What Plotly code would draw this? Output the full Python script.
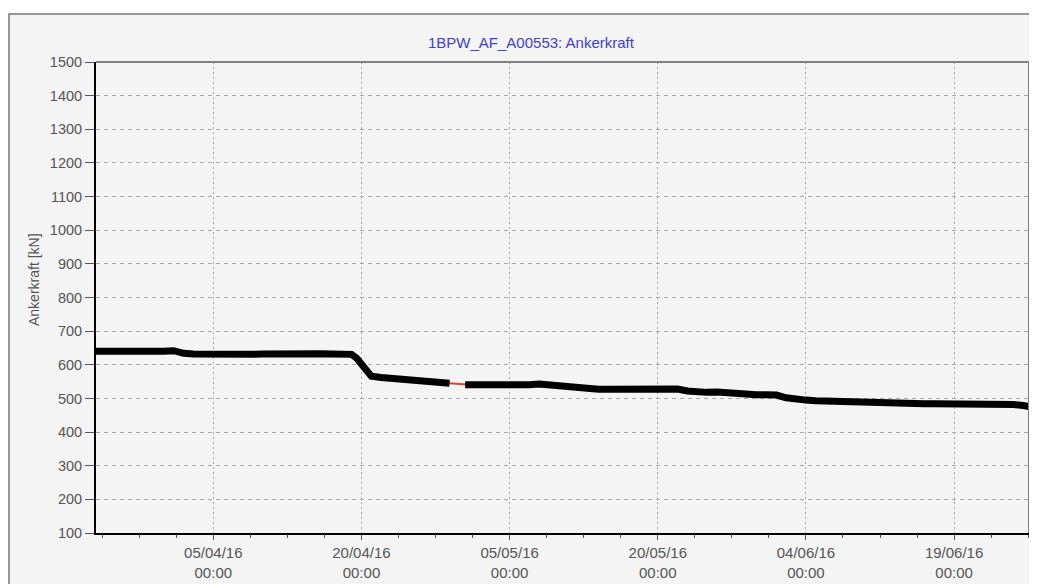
import plotly.graph_objects as go

# ---- data ----
dates = [
    "2016-03-24 03:00", "2016-03-25", "2016-03-26", "2016-03-27", "2016-03-28", "2016-03-29",
    "2016-03-30", "2016-03-31", "2016-04-01", "2016-04-02", "2016-04-03", "2016-04-04",
    "2016-04-05", "2016-04-06", "2016-04-07", "2016-04-08", "2016-04-09", "2016-04-10",
    "2016-04-11", "2016-04-12", "2016-04-13", "2016-04-14", "2016-04-15", "2016-04-16",
    "2016-04-17", "2016-04-18", "2016-04-19", "2016-04-19 12:00", "2016-04-20", "2016-04-20 12:00",
    "2016-04-21", "2016-04-22", "2016-04-23", "2016-04-24", "2016-04-25", "2016-04-26",
    "2016-04-27", "2016-04-28", "2016-04-28 22:00", "2016-04-29 12:00", "2016-04-30 12:00",
    "2016-05-01", "2016-05-02", "2016-05-03", "2016-05-04", "2016-05-05", "2016-05-06",
    "2016-05-07", "2016-05-08", "2016-05-09", "2016-05-10", "2016-05-11", "2016-05-12",
    "2016-05-13", "2016-05-14", "2016-05-15", "2016-05-16", "2016-05-17", "2016-05-18",
    "2016-05-19", "2016-05-20", "2016-05-21", "2016-05-22", "2016-05-23", "2016-05-24",
    "2016-05-25", "2016-05-26", "2016-05-27", "2016-05-28", "2016-05-29", "2016-05-30",
    "2016-05-31", "2016-06-01", "2016-06-02", "2016-06-03", "2016-06-04", "2016-06-05",
    "2016-06-06", "2016-06-07", "2016-06-08", "2016-06-09", "2016-06-10", "2016-06-11",
    "2016-06-12", "2016-06-13", "2016-06-14", "2016-06-15", "2016-06-16", "2016-06-17",
    "2016-06-18", "2016-06-19", "2016-06-20", "2016-06-21", "2016-06-22", "2016-06-23",
    "2016-06-24", "2016-06-25", "2016-06-26", "2016-06-26 14:00",
]
force_kn = [
    640, 640, 639, 638, 637, 636,
    635, 640, 642, 634, 632, 631,
    630, 631, 630, 630, 631, 632,
    633, 634, 635, 634, 633, 633,
    632, 632, 631, 620, 600, 578,
    566, 562, 560, 558, 555, 551,
    548, 546, 545, None, 541,
    541, 540, 539, 538, 537, 536,
    541, 543, 540, 535, 532, 530,
    528, 527, 527, 527, 527, 528,
    528, 530, 531, 528, 522, 519,
    518, 519, 516, 513, 512, 511,
    511, 510, 502, 497, 495, 493,
    492, 490, 487, 486, 486, 486,
    486, 485, 485, 485, 484, 484,
    484, 483, 483, 484, 485, 486,
    484, 482, 479, 476,
]

x_tick_vals = ["2016-04-05", "2016-04-20", "2016-05-05", "2016-05-20", "2016-06-04", "2016-06-19"]
x_tick_text = ["05/04/16<br>00:00", "20/04/16<br>00:00", "05/05/16<br>00:00",
               "20/05/16<br>00:00", "04/06/16<br>00:00", "19/06/16<br>00:00"]
y_tick_vals = list(range(100, 1501, 100))

title_text = "1BPW_AF_A00553: Ankerkraft"
y_title = "Ankerkraft [kN]"

font_family = "Liberation Sans, Arial, sans-serif"
label_color = "#555555"

fig = go.Figure()

# red connecting line (visible across gaps)
fig.add_trace(go.Scatter(
    x=dates, y=force_kn, mode="lines", connectgaps=True,
    line=dict(color="#e0403c", width=2), hoverinfo="skip", showlegend=False,
))
# black measured series
fig.add_trace(go.Scatter(
    x=dates, y=force_kn, mode="lines", connectgaps=False,
    line=dict(color="#000000", width=7), showlegend=False,
))

# page body adds an offset of (8, 7) px, compensate
W, H = 1029, 577
L, R, T, B = 88, 8, 54, 52
PW, PH = W - L - R, H - T - B

def px_x(x):
    return (x - L) / PW

def px_y(y):
    return 1 - (y - T) / PH

fig.update_layout(
    width=W, height=H,
    margin=dict(l=L, r=R, t=T, b=B, autoexpand=False),
    paper_bgcolor="white",
    plot_bgcolor="#f8f8f8",
    font=dict(family=font_family, size=14, color=label_color),
    showlegend=False,
    shapes=[
        dict(type="rect", xref="paper", yref="paper",
             x0=px_x(1), x1=px_x(W + 5), y0=px_y(H + 5), y1=px_y(6),
             line=dict(color="#777777", width=1.5), fillcolor="#f4f4f4", layer="below"),
        dict(type="line", xref="paper", yref="paper", x0=0, x1=1, y0=1, y1=1,
             line=dict(color="#808080", width=2)),
        dict(type="line", xref="paper", yref="paper", x0=1, x1=1, y0=0, y1=1,
             line=dict(color="#808080", width=2)),
    ],
    annotations=[
        dict(text=title_text, xref="paper", yref="paper",
             x=px_x(531 - 8), y=px_y(41 - 7),
             xanchor="center", yanchor="middle", showarrow=False,
             font=dict(family=font_family, size=15, color="#4040d0")),
        dict(text=y_title, xref="paper", yref="paper",
             x=px_x(34 - 8), y=px_y(279 - 7), textangle=-90,
             xanchor="center", yanchor="middle", showarrow=False,
             font=dict(family=font_family, size=14, color=label_color)),
    ],
)

fig.update_xaxes(
    type="date",
    range=["2016-03-24 03:00", "2016-06-26 14:00"],
    tickmode="array", tickvals=x_tick_vals, ticktext=x_tick_text,
    showgrid=True, gridcolor="#a8a8a8", griddash="2px,3px", gridwidth=1,
    showline=True, linecolor="black", linewidth=2,
    ticks="outside", ticklen=5, tickcolor="#555555",
    minor=dict(ticks="outside", ticklen=3, tickcolor="#555555",
               dtick=90 * 3600 * 1000, tick0="2016-04-05", showgrid=False),
    tickfont=dict(size=15, color=label_color),
    zeroline=False,
)
fig.update_yaxes(
    range=[100, 1500],
    tickmode="array", tickvals=y_tick_vals,
    showgrid=True, gridcolor="#a8a8a8", griddash="4px,4px", gridwidth=1,
    showline=True, linecolor="black", linewidth=2,
    ticks="outside", ticklen=9, tickcolor="#555555",
    tickfont=dict(size=14.5, color=label_color),
    zeroline=False,
)

fig.write_html("out.html")
